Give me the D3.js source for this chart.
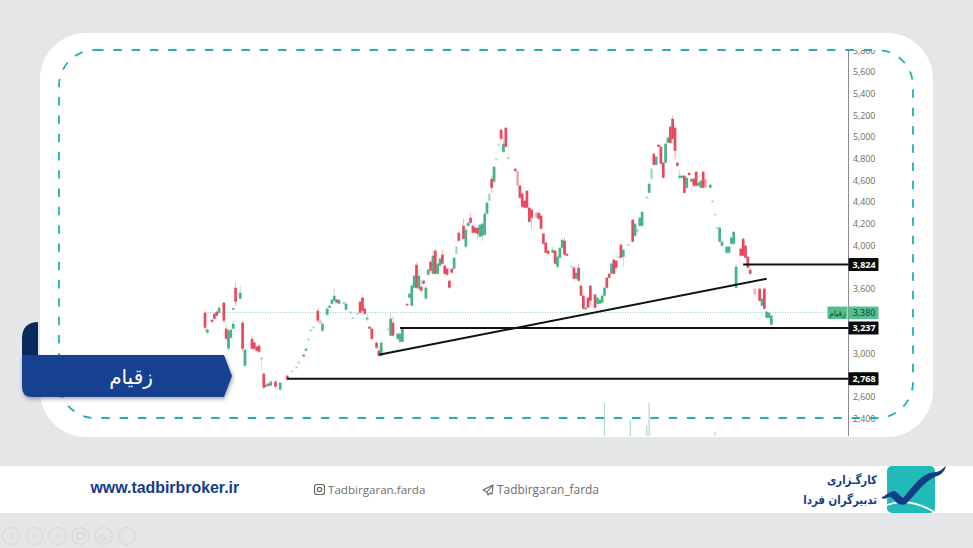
<!DOCTYPE html>
<html>
<head>
<meta charset="utf-8">
<script src="https://cdn.jsdelivr.net/npm/d3@7"></script>
<style>
	html, body { margin: 0; padding: 0; background: #e4e6e8; }
	svg { display: block; }
</style>
</head>
<body>
<svg id="chart" width="973" height="548"></svg>
<script>
// session number of every candle, gaps are days without a visible bar
var sessions = [
	0,1,3,4,5,6,8,9,10,11,
	12,12,13,15,16,17,20,21,22,23,
	24,25,26,27,28,30,32,35,37,39,
	40,42,43,44,45,46,48,49,50,52,
	53,54,55,56,57,59,60,62,63,65,
	66,67,68,69,70,71,73,74,75,78,
	79,80,82,83,84,86,87,88,89,90,
	91,92,93,94,95,96,97,98,99,100,
	101,102,103,104,105,106,107,108,110,111,
	112,113,114,115,116,117,118,119,120,121,
	122,123,124,125,126,127,128,129,132,133,
	134,135,136,137,138,139,141,142,143,144,
	145,146,148,149,150,151,152,153,154,156,
	157,158,159,160,161,162,163,164,166,167,
	168,169,170,171,172,173,174,175,176,177,
	178,180,182,183,184,185,186,188,189,190,
	191,192,193,194,195,196,197,198,199,200,
	201,202,203,204,205,206,207,208,209,210,
	211,212,213,215,216,217,218,219,220,222,
	223,224,225,226,228,229,230,231,232,234,
	236,237,238,239,240,241
];
var opens = [
	3378,3194,3314,3369,3388,3378,3471,3231,3046,3148,
	3231,3410,3609,3508,3286,2889,3138,3102,3065,3074,
	2963,2815,2695,2723,2705,2742,2668,2797,2834,2871,
	2917,2991,3028,3129,3212,3240,3397,3305,3212,3360,
	3425,3461,3489,3498,3461,3475,3406,3378,3325,3365,
	3480,3517,3415,3318,3249,3231,3102,3028,2982,3220,
	3166,3286,3138,3111,3111,3461,3517,3443,3609,3821,
	3600,3618,3674,3508,3729,3849,3738,3951,3738,3812,
	3914,3812,3785,3674,3785,3785,3923,4117,4181,3988,
	4181,4255,4181,4163,4163,4080,4089,4098,4292,4412,
	4615,4588,4790,4925,5068,4864,5086,4800,4708,4689,
	4551,4477,4412,4504,4348,4329,4301,4301,4274,4108,
	4025,3951,3932,3951,3803,3886,3978,4043,3923,3803,
	3794,3692,3794,3628,3535,3415,3517,3628,3545,3461,
	3461,3471,3535,3701,3738,3738,3868,3858,3890,4006,
	3895,4000,4237,4089,4126,4181,4181,4440,4486,4615,
	4846,4744,4929,4911,4763,4763,4947,5095,5169,5086,
	4763,4624,4624,4643,4532,4670,4588,4615,4680,4551,
	4532,4680,4610,4532,4405,4285,4160,4034,3997,3932,
	3932,4015,4015,3609,3969,4061,3997,3895,3775,3600,
	3600,3443,3600,3332,3332,3268
];
var closes = [
	3240,3222,3295,3323,3351,3425,3305,3138,3212,3222,
	3277,3420,3480,3563,3046,3037,3046,3046,3028,3018,
	2954,2686,2714,2705,2742,2695,2732,2760,2843,2880,
	2926,2975,3046,3138,3222,3249,3305,3280,3277,3415,
	3443,3498,3535,3471,3498,3465,3461,3388,3335,3375,
	3378,3397,3369,3332,3231,3138,3055,2982,3102,3230,
	3323,3166,3185,3185,3240,3452,3554,3628,3720,3609,
	3720,3581,3646,3609,3775,3766,3905,3738,3831,3877,
	3831,3738,3729,3609,3748,3886,3990,4043,4061,4145,
	4209,4209,4117,4117,4108,4191,4200,4292,4394,4477,
	4532,4726,4800,4938,4984,4938,4911,4812,4689,4551,
	4440,4357,4348,4348,4218,4255,4255,4246,4154,4015,
	3932,3923,3960,3831,3895,3978,4052,3914,3905,3812,
	3692,3748,3674,3535,3415,3425,3425,3489,3425,3517,
	3498,3535,3609,3609,3701,3831,3738,3794,3898,3886,
	3960,4010,4034,4200,4150,4255,4310,4448,4569,4708,
	4744,4818,4911,4754,4624,4938,4994,4947,4984,4874,
	4735,4643,4643,4486,4624,4650,4615,4551,4551,4578,
	4597,4532,4535,4560,4412,4292,4168,4163,4034,3988,
	3988,4071,4126,3803,3905,3905,3886,3794,3738,3545,
	3489,3508,3415,3388,3378,3351
];
var highs = [
	3397,3240,3323,3378,3397,3434,3480,3258,3231,3231,
	3305,3425,3655,3628,3305,3046,3166,3120,3074,3092,
	2970,2825,2723,2732,2751,2760,2742,2806,2850,2885,
	2935,2995,3055,3145,3230,3255,3425,3310,3286,3434,
	3450,3505,3600,3510,3510,3480,3489,3395,3340,3380,
	3490,3545,3425,3370,3255,3240,3111,3065,3120,3235,
	3370,3340,3194,3194,3249,3465,3565,3640,3730,3840,
	3770,3680,3683,3630,3785,3860,3960,3970,3840,3886,
	3960,3820,3795,3683,3795,3895,3995,4125,4250,4155,
	4218,4300,4190,4172,4172,4200,4210,4300,4400,4485,
	4640,4735,4805,4942,5075,5000,5095,4947,4715,4695,
	4560,4485,4420,4510,4355,4340,4310,4310,4282,4116,
	4034,3960,3985,3960,3905,3985,4060,4080,3930,3820,
	3810,3755,3830,3636,3545,3432,3525,3636,3555,3525,
	3505,3545,3618,3710,3745,3840,3876,3866,3905,4015,
	3970,4015,4245,4210,4175,4262,4318,4455,4578,4716,
	4855,4830,4938,4920,4772,4947,5002,5110,5200,5095,
	4772,4700,4655,4652,4635,4680,4625,4625,4690,4587,
	4605,4690,4618,4568,4418,4298,4174,4172,4042,3996,
	3996,4080,4135,3830,3978,4075,4005,3905,3785,3610,
	3610,3518,3610,3397,3388,3360
];
var lows = [
	3212,3185,3286,3314,3342,3369,3286,3120,3028,3139,
	3231,3405,3443,3498,3018,2871,3037,3028,3018,3000,
	2843,2668,2690,2700,2700,2686,2660,2755,2830,2865,
	2910,2965,3020,3125,3205,3235,3286,3275,3203,3350,
	3415,3452,3480,3465,3452,3460,3400,3360,3320,3360,
	3370,3388,3360,3300,3225,3120,3046,2975,2975,3215,
	3157,3157,3129,3102,3105,3448,3510,3435,3600,3600,
	3580,3572,3640,3500,3720,3757,3729,3729,3729,3805,
	3822,3730,3720,3600,3740,3775,3915,4034,4050,3975,
	4172,4200,4108,4108,4060,4070,4040,4090,4285,4405,
	4480,4580,4785,4920,4975,4855,4902,4790,4680,4545,
	4430,4348,4340,4340,4210,4145,4245,4236,4145,4006,
	3925,3915,3925,3822,3795,3880,3970,3905,3900,3796,
	3683,3684,3665,3526,3406,3408,3418,3440,3415,3452,
	3455,3463,3528,3600,3695,3730,3730,3786,3885,3878,
	3800,3995,4025,4080,4100,4172,4172,4435,4478,4608,
	4735,4735,4905,4745,4615,4755,4940,4938,4975,4800,
	4725,4615,4615,4478,4525,4642,4580,4543,4543,4545,
	4525,4525,4528,4525,4398,4278,4154,4026,3988,3925,
	3925,4008,4006,3600,3897,3897,3878,3785,3730,3535,
	3480,3435,3405,3323,3323,3258
];
// sessions whose bars look washed out in the picture
var paleSessions = [24,37,39,40,44,45,46,49,59,62,63,65,78,107,121,124,125,129,133,141,156,176,180,184,188,190,213,216,217,218,234];

var volumeSessions = [170,181,188,189,217];
var volumeValues = [100,48,33,100,12];

var axisTicks = [5800,5600,5400,5200,5000,4800,4600,4400,4200,4000,3600,3000,2800,2600,2400];
var symbolName = "زقیام";
var lastPrice = 3380;
var levelPrices = [3824,3237,2768];
var levelStarts = [229,83,35];
var trendSessions = [74,239];
var trendPrices = [2991,3692];

var playerButtons = [0,1,2,3,4,5];

var width = 973, height = 548;
var axisX = 848.5;
var red = "#e9485f", green = "#45b487";

var svg = d3.select("#chart");

var xscale = d3.scaleLinear().domain([0, 241]).range([205, 771.35]);
var yscale = d3.scaleLinear().domain([3000, 5000]).range([353.7, 137.1]);
var volscale = d3.scaleLinear().domain([0, 100]).range([436, 403]);

var defs = svg.append("defs");
var shadow = defs.append("filter").attr("id", "shadow")
	.attr("x", "-10%").attr("y", "-20%").attr("width", "120%").attr("height", "150%");
shadow.append("feDropShadow")
	.attr("dx", 1).attr("dy", 2).attr("stdDeviation", 2)
	.attr("flood-color", "#000").attr("flood-opacity", 0.35);
defs.append("filter").attr("id", "soft")
	.append("feGaussianBlur").attr("stdDeviation", 0.3);
// clip is in the axis group's own coordinates
defs.append("clipPath").attr("id", "axisclip")
	.append("rect").attr("x", -5).attr("y", 50).attr("width", 60).attr("height", 386);

// page frame
svg.append("rect").attr("width", width).attr("height", height).attr("fill", "#e4e6e8");
svg.append("rect")
	.attr("x", 40).attr("y", 33).attr("width", 893).attr("height", 404).attr("rx", 46)
	.attr("fill", "#fff");

// volume
svg.append("g").selectAll("line")
	.data(volumeSessions)
	.enter().append("line")
	.attr("x1", function(d){ return xscale(d); })
	.attr("x2", function(d){ return xscale(d); })
	.attr("y1", volscale(0))
	.attr("y2", function(d, i){ return volscale(volumeValues[i]); })
	.attr("stroke", "#a5dcd6")
	.attr("stroke-width", 1.2);

// last price dotted line
svg.append("line")
	.attr("x1", xscale(0)).attr("x2", axisX)
	.attr("y1", yscale(lastPrice)).attr("y2", yscale(lastPrice))
	.attr("stroke", "#8fd3b8")
	.attr("stroke-width", 1)
	.attr("stroke-dasharray", "1,1.5");

// candles
var candles = svg.append("g").attr("filter", "url(#soft)");

function candleColor(i){
	return closes[i] < opens[i] ? red : green;
}
function candleFade(i, full, pale){
	return paleSessions.indexOf(sessions[i]) >= 0 ? pale : full;
}

candles.selectAll("line.wick")
	.data(sessions)
	.enter().append("line")
	.attr("class", "wick")
	.attr("x1", function(d){ return xscale(d); })
	.attr("x2", function(d){ return xscale(d); })
	.attr("y1", function(d, i){ return yscale(highs[i]); })
	.attr("y2", function(d, i){ return yscale(lows[i]); })
	.attr("stroke", function(d, i){ return candleColor(i); })
	.attr("stroke-width", 0.9)
	.attr("opacity", function(d, i){ return candleFade(i, 0.45, 0.25); });

candles.selectAll("rect.body")
	.data(sessions)
	.enter().append("rect")
	.attr("class", "body")
	.attr("x", function(d){ return xscale(d) - 1.35; })
	.attr("width", 2.7)
	.attr("y", function(d, i){ return yscale(Math.max(opens[i], closes[i])); })
	.attr("height", function(d, i){ return Math.max(1.6, Math.abs(yscale(opens[i]) - yscale(closes[i]))); })
	.attr("fill", function(d, i){ return candleColor(i); })
	.attr("opacity", function(d, i){ return candleFade(i, 1, 0.4); });

// price axis
var yaxis = d3.axisRight(yscale)
	.tickValues(axisTicks)
	.tickSize(0)
	.tickPadding(4.5)
	.tickFormat(d3.format(","));

var gY = svg.append("g")
	.attr("transform", "translate(" + axisX + ",0)")
	.attr("clip-path", "url(#axisclip)")
	.call(yaxis);
gY.select(".domain").remove();
gY.selectAll("text")
	.attr("fill", "#6b6b6b")
	.style("font-family", "'Open Sans', sans-serif")
	.style("font-size", "8.8px");

svg.append("line")
	.attr("x1", axisX).attr("x2", axisX)
	.attr("y1", 50).attr("y2", 436)
	.attr("stroke", "#8a8a8a")
	.attr("stroke-width", 1);

// drawn levels and trend line
svg.append("g").selectAll("line")
	.data(levelPrices)
	.enter().append("line")
	.attr("x1", function(d, i){ return xscale(levelStarts[i]); })
	.attr("x2", axisX)
	.attr("y1", function(d){ return yscale(d); })
	.attr("y2", function(d){ return yscale(d); })
	.attr("stroke", "#111")
	.attr("stroke-width", 2);

svg.append("line")
	.attr("x1", xscale(trendSessions[0])).attr("y1", yscale(trendPrices[0]))
	.attr("x2", xscale(trendSessions[1])).attr("y2", yscale(trendPrices[1]))
	.attr("stroke", "#111")
	.attr("stroke-width", 2);

// axis labels
var levelTags = svg.append("g").selectAll("g")
	.data(levelPrices)
	.enter().append("g")
	.attr("transform", function(d){ return "translate(" + axisX + "," + yscale(d) + ")"; });
levelTags.append("rect")
	.attr("x", 0).attr("y", -6.5).attr("width", 30).attr("height", 13).attr("rx", 1)
	.attr("fill", "#0a0a0a");
levelTags.append("text")
	.attr("x", 15.5).attr("y", 3.2)
	.attr("text-anchor", "middle")
	.attr("fill", "#fff")
	.style("font-family", "'Open Sans', sans-serif")
	.style("font-size", "9px")
	.style("font-weight", "700")
	.text(d3.format(","));

var lastTag = svg.append("g")
	.attr("transform", "translate(" + axisX + "," + yscale(lastPrice) + ")");
lastTag.append("rect")
	.attr("x", 0).attr("y", -6).attr("width", 30).attr("height", 12.5)
	.attr("fill", "#52bf8f");
lastTag.append("text")
	.attr("x", 15.5).attr("y", 3.2)
	.attr("text-anchor", "middle")
	.attr("fill", "#14402f")
	.style("font-family", "'Open Sans', sans-serif")
	.style("font-size", "8.8px")
	.text(d3.format(",")(lastPrice));
lastTag.append("rect")
	.attr("x", -21).attr("y", -6).attr("width", 20).attr("height", 12.5)
	.attr("fill", "#52bf8f");
lastTag.append("text")
	.attr("x", -11).attr("y", 3)
	.attr("text-anchor", "middle")
	.attr("fill", "#14402f")
	.style("font-family", "'DejaVu Sans', sans-serif")
	.style("font-size", "7.5px")
	.text(symbolName);

// dashed frame goes over the axis
svg.append("rect")
	.attr("x", 59).attr("y", 50).attr("width", 854).attr("height", 368).attr("rx", 36)
	.attr("fill", "none")
	.attr("stroke", "#20b0b6")
	.attr("stroke-width", 1.8)
	.attr("stroke-dasharray", "8.5,9.8");

// ribbon
svg.append("path")
	.attr("d", "M38,322 C28,322 22,328 22,338 L22,362 L38,362 Z")
	.attr("fill", "#0b2a5c");
svg.append("path")
	.attr("d", "M22,355 L224,355 L232,376 L224,397 L32,397 Q22,397 22,387 Z")
	.attr("fill", "#133f90")
	.attr("filter", "url(#shadow)");
svg.append("path")
	.attr("d", "M22,340 C22,350 30,354 38,355 L22,355 Z")
	.attr("fill", "#0b2a5c");
svg.append("text")
	.attr("x", 131).attr("y", 384)
	.attr("text-anchor", "middle")
	.attr("fill", "#fff")
	.style("font-family", "'DejaVu Sans', sans-serif")
	.style("font-size", "20px")
	.text(symbolName);

// footer band
svg.append("rect").attr("x", 0).attr("y", 466).attr("width", width).attr("height", 47).attr("fill", "#fff");

svg.append("text")
	.attr("x", 90.5).attr("y", 493)
	.attr("fill", "#163c86")
	.style("font-family", "'Liberation Sans', Arial, sans-serif")
	.style("font-size", "15.9px")
	.style("font-weight", "700")
	.text("www.tadbirbroker.ir");

svg.append("text")
	.attr("x", 328).attr("y", 494)
	.attr("fill", "#6d6d6d")
	.style("font-family", "'Open Sans', sans-serif")
	.style("font-size", "11.6px")
	.text("Tadbirgaran.farda");
svg.append("rect")
	.attr("x", 314.5).attr("y", 484.5).attr("width", 10).attr("height", 10).attr("rx", 2.5)
	.attr("fill", "none").attr("stroke", "#666").attr("stroke-width", 1.2);
svg.append("circle")
	.attr("cx", 319.5).attr("cy", 489.5).attr("r", 2.2)
	.attr("fill", "none").attr("stroke", "#666").attr("stroke-width", 1.2);

svg.append("text")
	.attr("x", 497).attr("y", 494)
	.attr("fill", "#6d6d6d")
	.style("font-family", "'Open Sans', sans-serif")
	.style("font-size", "11.9px")
	.text("Tadbirgaran_farda");
svg.append("path")
	.attr("d", "M493,485 L483,490 L487,492 L488,495 L490,493 L492,494 Z M487,492 L493,485")
	.attr("fill", "none").attr("stroke", "#666").attr("stroke-width", 1.1).attr("stroke-linejoin", "round");

// logo
svg.append("rect")
	.attr("x", 887).attr("y", 466).attr("width", 48).attr("height", 47).attr("rx", 5)
	.attr("fill", "#22b9b9");
svg.append("path")
	.attr("d", "M887,505 C902,499 920,503 934,512")
	.attr("fill", "none")
	.attr("stroke", "#fff")
	.attr("stroke-width", 1.6);
svg.append("path")
	.attr("d", "M881,498 C886,495 890,491 895,491 C898,493 900,496 903,498 C912,488 922,472 936,472 C940,472 943,468 946,466 C945,471 941,475 937,476 C925,480 916,494 906,504 C904,505 899,505 897,503 C894,500 891,496 888,497 C886,499 884,499 881,498 Z")
	.attr("fill", "#163c86");
svg.append("text")
	.attr("transform", "translate(877,484) scale(0.85,1)")
	.attr("text-anchor", "end")
	.attr("fill", "#163c86")
	.style("font-family", "'DejaVu Sans', sans-serif")
	.style("font-size", "12px")
	.style("font-weight", "700")
	.text("کارگـزاری");
svg.append("text")
	.attr("transform", "translate(877,504) scale(0.85,1)")
	.attr("text-anchor", "end")
	.attr("fill", "#163c86")
	.style("font-family", "'DejaVu Sans', sans-serif")
	.style("font-size", "12px")
	.style("font-weight", "700")
	.text("تدبیرگران فردا");

// slide player buttons
var buttonX = d3.scaleLinear().domain([0, 5]).range([11, 127]);
svg.append("g").selectAll("circle")
	.data(playerButtons)
	.enter().append("circle")
	.attr("cx", function(d){ return buttonX(d); })
	.attr("cy", 536)
	.attr("r", 8.5)
	.attr("fill", "none")
	.attr("stroke", "#d3d5d8")
	.attr("stroke-width", 1);
svg.append("path")
	.attr("d", "M13,533 L9,536 L13,539 Z M33,533 L37,536 L33,539 Z M55,539 L61,533 M77,533 H85 V539 H77 Z M102,535 a2.5,2.5 0 1 0 0.1,0 M104,538 L108,541")
	.attr("fill", "none")
	.attr("stroke", "#d3d5d8")
	.attr("stroke-width", 1);
</script>
</body>
</html>
